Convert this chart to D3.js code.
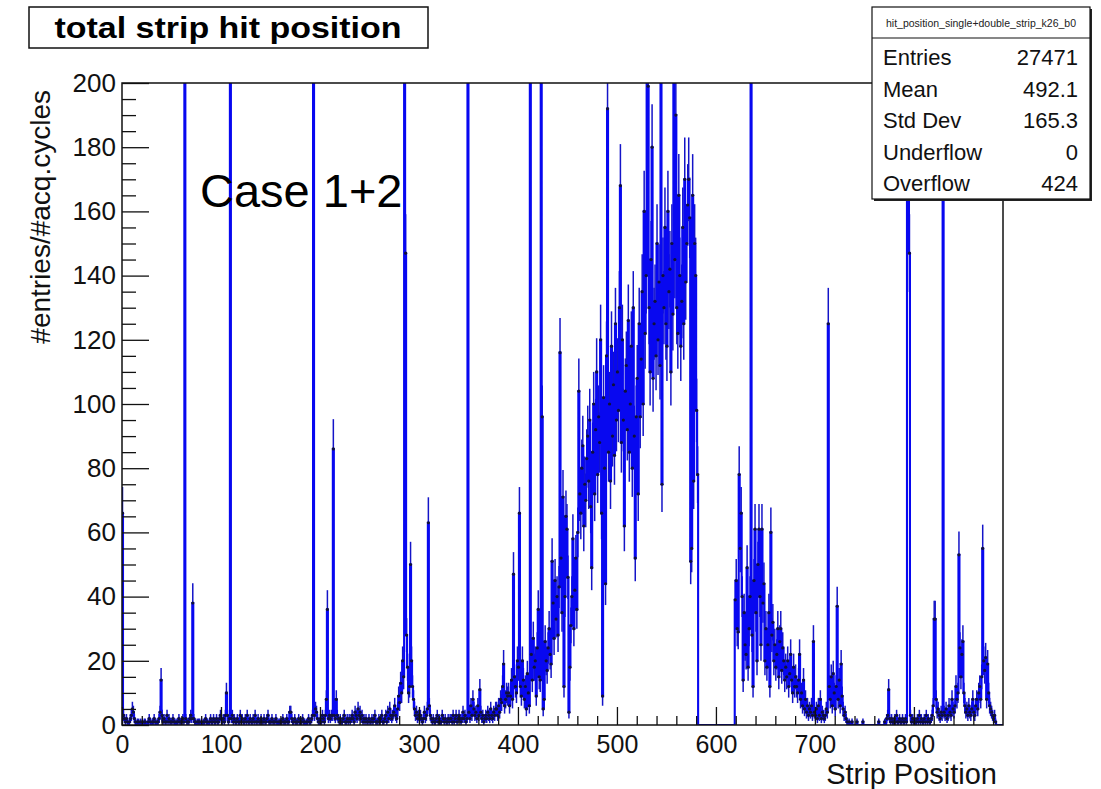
<!DOCTYPE html>
<html><head><meta charset="utf-8">
<script src="https://cdn.jsdelivr.net/npm/d3@7"></script>
<style>
body{margin:0;background:#fff;}
svg{display:block;}
text{font-family:"Liberation Sans",Arial,Helvetica,sans-serif;}
</style>
</head><body>
<svg id="c" width="1101" height="789"></svg>
<script>
// entries / acq.cycles per strip, strips 0..889 (values > 200 are off-scale spikes)
const hits000 = [66,3,2,1,2,1,0,1,2,3, 5,4,2,1,0,1,1,0,1,0, 1,0,1,1,0,0,1,2,1,0, 1,1,2,1,0,1,1,2,4,14, 3,1,2,1,1,3,1,2,1,1, 1,2,1,1,0,1,1,2,1,1, 1,2,1,600,2,1,1,1,2,3, 2,38,2,1,1,0,1,1,1,0, 1,0,1,1,2,1,1,0,1,2, 1,1,2,1,1,2,1,1,2,3];
const hits100 = [2,1,2,1,3,10,3,1,2,600, 2,3,1,2,1,1,2,1,1,3, 1,2,1,1,2,1,3,1,1,2, 1,1,2,1,3,1,1,2,1,1, 2,1,1,2,1,1,2,3,1,1, 1,2,1,1,1,2,1,0,1,1, 1,1,2,1,1,1,2,1,1,4, 4,2,1,1,2,1,1,1,2,1, 1,1,2,1,1,0,1,1,2,1, 1,2,3,600,3,5,4,2,1,1];
const hits200 = [2,1,3,2,1,3,8,36,2,3, 2,3,3,86,3,2,8,3,2,1, 2,1,1,2,3,1,1,2,1,2, 1,2,3,2,1,4,3,2,5,3, 4,2,3,1,2,1,2,1,1,2, 1,1,2,1,2,3,1,1,1,2, 1,2,3,1,1,2,3,1,4,2, 5,3,2,3,4,6,3,2,5,9, 7,13,10,20,15,600,147,28,18,10, 12,50,20,12,8,5,3,4,2,3];
const hits300 = [2,3,2,1,2,4,2,3,5,63, 6,3,2,1,2,1,1,2,3,1, 2,1,1,3,2,1,2,1,1,2, 1,2,2,1,3,1,2,3,1,2, 3,2,1,2,4,2,3,1,2,600, 4,2,6,3,8,5,3,4,2,6, 3,11,4,2,3,1,2,3,2,4, 3,2,5,3,2,4,3,5,5,3, 6,4,8,7,12,19,6,8,10,9, 10,6,9,14,8,47,15,12,10,20];
const hits400 = [18,66,12,9,20,14,8,12,5,16, 10,6,600,22,14,27,18,20,9,24, 36,15,14,600,96,5,8,26,20,17, 24,30,22,19,51,38,27,45,33,40, 28,43,116,52,35,71,12,40,65,61, 46,4,18,31,40,58,30,42,52,36, 60,104,72,66,80,87,62,75,70,83, 90,76,95,68,49,85,100,72,92,110, 78,96,88,120,66,9,102,80,44,115, 192,85,100,76,118,90,106,84,125,95];
const hits500 = [110,98,130,168,88,120,95,62,104,112, 92,126,85,100,118,80,130,90,52,96, 108,72,125,96,114,135,100,160,122,140, 205,199,130,110,145,180,108,125,132,115, 150,120,138,112,215,75,140,130,155,125, 118,160,135,142,110,150,128,215,145,190, 130,122,165,140,118,132,155,125,170,138, 150,162,170,158,51,55,165,76,150,140, 98,78,0,0,0,0,0,0,0,0, 0,0,0,0,0,0,0,0,0,0];
const hits600 = [0,0,0,0,0,0,0,0,0,0, 0,0,0,0,0,0,0,0,0,39, 45,30,29,78,55,66,40,14,35,25, 22,49,18,30,40,600,28,12,45,61, 35,20,50,61,40,25,61,38,44,20, 30,18,25,35,12,60,28,32,20,25, 18,22,30,15,26,30,17,24,20,14, 18,15,20,12,16,22,14,10,18,12, 15,12,10,14,22,8,10,6,14,5, 8,4,6,3,5,4,6,3,26,4];
const hits700 = [3,5,2,6,3,8,2,4,3,2, 3,5,4,125,12,8,15,6,16,10, 5,12,37,8,14,6,19,9,5,3, 4,2,1,0,1,0,0,1,0,0, 0,0,1,0,0,0,0,0,1,0, 0,0,0,0,0,0,0,0,0,0, 0,0,0,0,1,0,0,0,0,0, 1,0,2,3,11,2,1,2,1,1, 2,1,3,1,1,2,1,1,2,1, 1,2,1,600,600,147,3,1,2,1];
const hits800 = [2,1,1,2,1,3,1,2,1,1, 2,1,3,1,2,1,1,2,3,6, 33,33,8,4,5,3,2,4,3,600, 4,3,5,2,3,6,4,3,8,5, 4,6,12,8,10,53,24,15,22,26, 10,6,4,5,3,6,4,3,5,8, 4,3,6,8,5,10,12,8,15,55, 20,17,21,8,19,10,6,5,4,3, 2,3,1,0,0,0,0,0,0,0];

const xTickValues = [0,100,200,300,400,500,600,700,800];
const yTickValues = [0,20,40,60,80,100,120,140,160,180,200];
const titleText = "total strip hit position";
const statsName = "hit_position_single+double_strip_k26_b0";
const statsLabels = ["Entries","Mean","Std Dev","Underflow","Overflow"];
const statsValues = ["27471","492.1","165.3","0","424"];
const xTitle = "Strip Position";
const yTitle = "#entries/#acq.cycles";
const noteText = "Case 1+2";

const counts = [].concat(hits000,hits100,hits200,hits300,hits400,hits500,hits600,hits700,hits800);
const bins = counts.map((v,i)=>({i, v}));

const svg = d3.select("#c");
const L=122, R=1003, T=83, B=725;
const x = d3.scaleLinear().domain([0,890]).range([L,R]);
const y = d3.scaleLinear().domain([0,200]).range([B,T]);
const BLUE = "#0808f0";

svg.append("rect").attr("width",1101).attr("height",789).attr("fill","#fff");

svg.append("defs").append("clipPath").attr("id","clip")
  .append("rect").attr("x",L).attr("y",T).attr("width",R-L).attr("height",B-T);

const plot = svg.append("g").attr("clip-path","url(#clip)");

const cap = v => Math.min(v, 210);
// error bars
plot.append("g").selectAll("line").data(bins.filter(d=>d.v>0 && d.v<=200)).join("line")
  .attr("x1",d=>x(d.i+0.5)).attr("x2",d=>x(d.i+0.5))
  .attr("y1",d=>y(Math.max(0,d.v-Math.sqrt(d.v)))).attr("y2",d=>y(cap(d.v+Math.sqrt(d.v))))
  .attr("stroke","#1414c8").attr("stroke-width",1.5);

// step histogram
const stepPts = [[0,0]].concat(bins.map(d=>[d.i,cap(d.v)])).concat([[counts.length,cap(counts[counts.length-1])],[counts.length,0]]);
plot.append("path")
  .attr("d", d3.line().x(p=>x(p[0])).y(p=>y(p[1])).curve(d3.curveStepAfter)(stepPts))
  .attr("fill","none").attr("stroke",BLUE).attr("stroke-width",2.1);

// markers
plot.append("g").selectAll("circle").data(bins.filter(d=>d.v>0 && d.v<=200)).join("circle")
  .attr("cx",d=>x(d.i+0.5)).attr("cy",d=>y(d.v)).attr("r",1.6).attr("fill","#10103a");

// axes
const yMajor = d3.axisLeft(y).tickValues(yTickValues).tickSizeInner(-27).tickSizeOuter(0).tickPadding(6);
const yMinor = d3.axisLeft(y).tickValues(d3.range(0,201,5).filter(v=>v%20!==0)).tickSizeInner(-14).tickSizeOuter(0).tickFormat("");
const xMajor = d3.axisBottom(x).tickValues(xTickValues).tickSizeInner(-18).tickSizeOuter(0).tickPadding(10);
const xMinor = d3.axisBottom(x).tickValues(d3.range(0,891,20).filter(v=>v%100!==0)).tickSizeInner(-9).tickSizeOuter(0).tickFormat("");

function styleAxis(g, fs){
  g.select(".domain").remove();
  g.selectAll("line").attr("stroke","#111").attr("stroke-width",1.3);
  g.selectAll("text").attr("font-size",fs).attr("fill","#111").attr("font-family","Liberation Sans, Arial, sans-serif");
}
svg.append("g").attr("transform",`translate(${L},0)`).call(yMinor).call(g=>styleAxis(g,0));
svg.append("g").attr("transform",`translate(${L},0)`).call(yMajor).call(g=>styleAxis(g,26));
svg.append("g").attr("transform",`translate(0,${B})`).call(xMinor).call(g=>styleAxis(g,0));
svg.append("g").attr("transform",`translate(0,${B})`).call(xMajor).call(g=>styleAxis(g,25));

// frame
svg.append("rect").attr("x",L).attr("y",T).attr("width",R-L).attr("height",B-T)
  .attr("fill","none").attr("stroke","#111").attr("stroke-width",1.5);

// axis titles
svg.append("text").attr("x",997).attr("y",784).attr("text-anchor","end")
  .attr("font-size",29).attr("fill","#111").text(xTitle);
svg.append("text").attr("transform","translate(50,90) rotate(-90)").attr("text-anchor","end")
  .attr("font-size",28).attr("fill","#111").text(yTitle);

// note
svg.append("text").attr("x",200).attr("y",207).attr("font-size",47).attr("fill","#000").text(noteText);

// title box
svg.append("rect").attr("x",29).attr("y",7).attr("width",399).attr("height",41)
  .attr("fill","#fff").attr("stroke","#111").attr("stroke-width",1.5);
svg.append("text").attr("x",228).attr("y",38).attr("text-anchor","middle")
  .attr("font-size",30).attr("font-weight","bold").attr("fill","#000")
  .attr("textLength",347).attr("lengthAdjust","spacingAndGlyphs").text(titleText);

// stats box
const sx=872, sy=7, sw=218, sh=192;
svg.append("rect").attr("x",sx+2).attr("y",sy+2).attr("width",sw).attr("height",sh).attr("fill","#222");
svg.append("rect").attr("x",sx).attr("y",sy).attr("width",sw).attr("height",sh)
  .attr("fill","#fff").attr("stroke","#111").attr("stroke-width",1.2);
svg.append("line").attr("x1",sx).attr("x2",sx+sw).attr("y1",38).attr("y2",38).attr("stroke","#111").attr("stroke-width",1.2);
svg.append("text").attr("x",sx+sw/2).attr("y",27).attr("text-anchor","middle").attr("font-size",10.5).attr("fill","#222").text(statsName);
const rowY = [65,97,128,160,191];
svg.append("g").selectAll("text.l").data(statsLabels).join("text")
  .attr("x",883).attr("y",(d,i)=>rowY[i]).attr("font-size",22).attr("fill","#111").text(d=>d);
svg.append("g").selectAll("text.v").data(statsValues).join("text")
  .attr("x",1078).attr("y",(d,i)=>rowY[i]).attr("text-anchor","end").attr("font-size",22).attr("fill","#111").text(d=>d);
</script>
</body></html>
